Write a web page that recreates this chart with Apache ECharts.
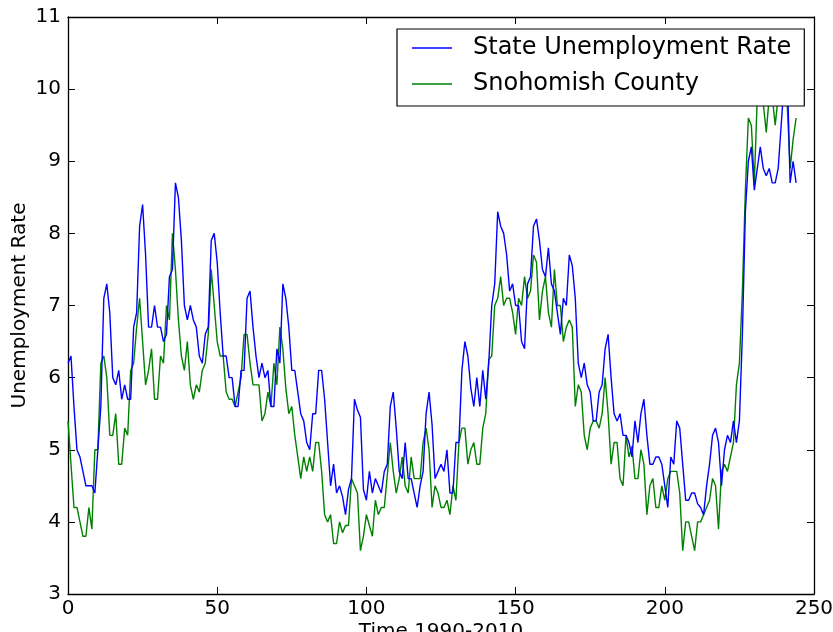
<!DOCTYPE html>
<html>
<head>
<meta charset="utf-8">
<script src="https://cdn.jsdelivr.net/npm/echarts@6/dist/echarts.min.js"></script>
<style>
  html, body { margin: 0; padding: 0; background: #ffffff; }
  #chart { width: 833px; height: 632px; }
</style>
</head>
<body>
<div id="chart"></div>
<script>
// Monthly unemployment rate, 1990-2010 (month index on the x axis)
const stateRate = [
  6.2, 6.3, 5.6, 5.0, 4.9, 4.7, 4.5, 4.5, 4.5, 4.4,
  5.0, 5.6, 7.1, 7.3, 6.9, 6.0, 5.9, 6.1, 5.7, 5.9,
  5.7, 5.7, 6.7, 6.9, 8.1, 8.4, 7.7, 6.7, 6.7, 7.0,
  6.7, 6.7, 6.5, 6.6, 7.4, 7.5, 8.7, 8.5, 7.9, 7.0,
  6.8, 7.0, 6.8, 6.7, 6.3, 6.2, 6.6, 6.7, 7.9, 8.0,
  7.6, 6.9, 6.3, 6.3, 6.0, 6.0, 5.6, 5.6, 6.1, 6.1,
  7.1, 7.2, 6.7, 6.3, 6.0, 6.2, 6.0, 6.1, 5.6, 5.6,
  6.4, 6.2, 7.3, 7.1, 6.7, 6.1, 6.1, 5.8, 5.5, 5.4,
  5.1, 5.0, 5.5, 5.5, 6.1, 6.1, 5.7, 5.1, 4.5, 4.8,
  4.4, 4.5, 4.35, 4.1, 4.45, 4.6, 5.7, 5.55, 5.45, 4.45,
  4.3, 4.7, 4.4, 4.6, 4.5, 4.4, 4.7, 4.8, 5.6, 5.8,
  5.3, 4.7, 4.6, 5.1, 4.6, 4.6, 4.4, 4.2, 4.5, 4.7,
  5.5, 5.8, 5.35, 4.6, 4.7, 4.8, 4.7, 5.0, 4.4, 4.4,
  5.1, 5.1, 6.1, 6.5, 6.3, 5.85, 5.6, 6.0, 5.6, 6.1,
  5.7, 6.2, 7.0, 7.3, 8.3, 8.1, 8.0, 7.7, 7.2, 7.3,
  7.0, 7.0, 6.5, 6.4, 7.3, 7.4, 8.1, 8.2, 7.9, 7.5,
  7.4, 7.8, 7.3, 7.2, 6.9, 6.6, 7.1, 7.0, 7.7, 7.55,
  7.1, 6.2, 6.0, 6.2, 5.9, 5.8, 5.4, 5.4, 5.8, 5.9,
  6.4, 6.6, 6.0, 5.5, 5.4, 5.5, 5.2, 5.2, 5.1, 4.9,
  5.4, 5.1, 5.5, 5.7, 5.2, 4.8, 4.8, 4.9, 4.9, 4.8,
  4.5, 4.2, 4.9, 4.8, 5.4, 5.3, 4.8, 4.3, 4.3, 4.4,
  4.4, 4.25, 4.2, 4.1, 4.5, 4.8, 5.2, 5.3, 5.1, 4.5,
  5.0, 5.2, 5.1, 5.4, 5.1, 5.4, 6.6, 8.3, 9.0, 9.2,
  8.6, 8.9, 9.2, 8.9, 8.8, 8.9, 8.7, 8.7, 8.9, 9.5,
  10.1, 10.3, 8.7, 9.0, 8.7
];

const countyRate = [
  5.4, 4.8, 4.2, 4.2, 4.0, 3.8, 3.8, 4.2, 3.9, 5.0,
  5.0, 6.2, 6.3, 6.0, 5.2, 5.2, 5.5, 4.8, 4.8, 5.3,
  5.2, 6.1, 6.2, 6.7, 7.1, 6.5, 5.9, 6.1, 6.4, 5.7,
  5.7, 6.3, 6.2, 7.0, 6.8, 8.0, 7.5, 6.8, 6.3, 6.1,
  6.5, 5.9, 5.7, 5.9, 5.8, 6.1, 6.2, 6.6, 7.5, 7.0,
  6.5, 6.3, 6.3, 5.8, 5.7, 5.7, 5.6, 5.8, 6.0, 6.6,
  6.6, 6.2, 5.9, 5.9, 5.9, 5.4, 5.5, 5.8, 5.6, 6.2,
  5.9, 6.7, 6.4, 5.85, 5.5, 5.6, 5.2, 4.9, 4.6, 4.9,
  4.7, 4.9, 4.7, 5.1, 5.1, 4.7, 4.1, 4.0, 4.1, 3.7,
  3.7, 4.0, 3.85, 3.95, 3.95, 4.6, 4.5, 4.4, 3.6, 3.8,
  4.1, 3.95, 3.8, 4.3, 4.1, 4.2, 4.2, 4.65, 5.1, 4.7,
  4.4, 4.6, 4.9, 4.5, 4.4, 4.9, 4.6, 4.6, 4.6, 5.1,
  5.3, 5.0, 4.2, 4.5, 4.4, 4.2, 4.2, 4.3, 4.1, 4.5,
  4.3, 5.1, 5.3, 5.3, 4.8, 5.0, 5.1, 4.8, 4.8, 5.3,
  5.5, 6.25, 6.3, 7.0, 7.1, 7.4, 7.0, 7.1, 7.1, 6.9,
  6.6, 7.1, 7.0, 7.4, 7.1, 7.2, 7.7, 7.6, 6.8, 7.2,
  7.4, 6.9, 6.7, 7.5, 7.0, 7.0, 6.5, 6.7, 6.8, 6.7,
  5.6, 5.9, 5.8, 5.2, 5.0, 5.3, 5.4, 5.4, 5.3, 5.5,
  6.0, 5.5, 4.8, 5.1, 5.1, 4.6, 4.5, 5.2, 4.9, 5.05,
  4.6, 4.6, 5.0, 4.8, 4.1, 4.5, 4.6, 4.2, 4.2, 4.5,
  4.3, 4.6, 4.7, 4.7, 4.7, 4.4, 3.6, 4.0, 4.0, 3.8,
  3.6, 4.0, 4.0, 4.1, 4.2, 4.3, 4.6, 4.5, 3.9, 4.7,
  4.8, 4.7, 4.9, 5.1, 5.9, 6.2, 7.2, 8.6, 9.6, 9.5,
  8.7, 9.9, 9.9, 9.8, 9.4, 9.9, 9.9, 9.5, 9.9, 10.1,
  10.0, 9.8, 8.9, 9.3, 9.6
];

const seriesNames = ['State Unemployment Rate', 'Snohomish County'];
const xTicks = { min: 0, max: 250, step: 50 };
const yTicks = { min: 3, max: 11, step: 1 };

const FONT = 'DejaVu Sans';

function pairs(values) {
  return values.map((v, i) => [i, v]);
}

const frameAxis = {
  axisLine: { show: true, onZero: false, lineStyle: { color: '#000', width: 1.3 } },
  axisTick: { show: true, inside: true, length: 7, lineStyle: { color: '#000', width: 1 } },
  splitLine: { show: false }
};

const chart = echarts.init(document.getElementById('chart'), null, { renderer: 'canvas' });

chart.setOption({
  backgroundColor: '#ffffff',
  animation: false,
  grid: { left: 68, right: 19, top: 17, bottom: 38, containLabel: false, outerBoundsMode: 'none' },
  legend: {
    data: seriesNames,
    orient: 'vertical',
    left: 397,
    top: 29,
    padding: [5, 13, 8, 15],
    itemGap: 8,
    itemWidth: 40,
    itemHeight: 1.5,
    icon: 'rect',
    backgroundColor: '#ffffff',
    borderColor: '#000000',
    borderWidth: 1.2,
    borderRadius: 0,
    z: 10,
    textStyle: { fontFamily: FONT, fontSize: 24, color: '#000', lineHeight: 28, padding: [0, 0, 0, 16] }
  },
  xAxis: [
    Object.assign({
      type: 'value', position: 'bottom', min: xTicks.min, max: xTicks.max, interval: xTicks.step,
      name: 'Time 1990-2010', nameLocation: 'middle', nameGap: 28, nameMoveOverlap: false,
      nameTextStyle: { fontFamily: FONT, fontSize: 20, color: '#000', verticalAlign: 'top' },
      axisLabel: { fontFamily: FONT, fontSize: 20, color: '#000', margin: 5 }
    }, frameAxis),
    Object.assign({
      type: 'value', position: 'top', min: xTicks.min, max: xTicks.max, interval: xTicks.step,
      axisLabel: { show: false }
    }, frameAxis)
  ],
  yAxis: [
    Object.assign({
      type: 'value', position: 'left', min: yTicks.min, max: yTicks.max, interval: yTicks.step,
      name: 'Unemployment Rate', nameLocation: 'middle', nameGap: 38, nameRotate: 90,
      nameMoveOverlap: false,
      nameTextStyle: { fontFamily: FONT, fontSize: 20, color: '#000' },
      axisLabel: { fontFamily: FONT, fontSize: 20, color: '#000', margin: 7 }
    }, frameAxis),
    Object.assign({
      type: 'value', position: 'right', min: yTicks.min, max: yTicks.max, interval: yTicks.step,
      axisLabel: { show: false }
    }, frameAxis)
  ],
  series: [
    {
      name: seriesNames[0], type: 'line', data: pairs(stateRate),
      xAxisIndex: 0, yAxisIndex: 0, symbol: 'none', z: 3,
      lineStyle: { color: '#0000ff', width: 1.4 }, itemStyle: { color: '#0000ff' }
    },
    {
      name: seriesNames[1], type: 'line', data: pairs(countyRate),
      xAxisIndex: 0, yAxisIndex: 0, symbol: 'none', z: 2,
      lineStyle: { color: '#008000', width: 1.4 }, itemStyle: { color: '#008000' }
    }
  ]
});
</script>
</body>
</html>
